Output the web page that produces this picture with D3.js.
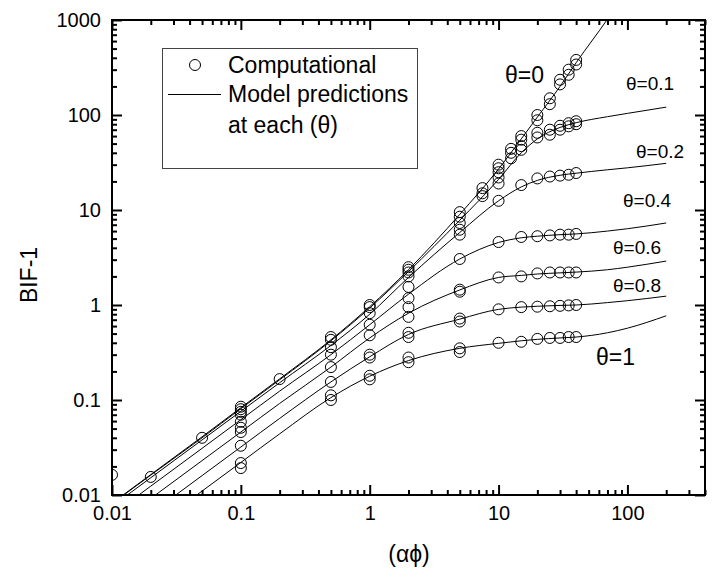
<!DOCTYPE html>
<html>
<head>
<meta charset="utf-8">
<script src="https://cdn.jsdelivr.net/npm/d3@7"></script>
<style>
  body { margin: 0; background: #fff; }
  .chart { font-family: "Liberation Sans", Arial, sans-serif; }
  .axis line { stroke: #000; stroke-width: 2; }
  .axis text { font-size: 20px; fill: #000; }
</style>
</head>
<body>
<svg class="chart"></svg>
<script>
// computational results, one column of values per (alpha*phi)
var compX = [0.01, 0.02, 0.05, 0.1, 0.2, 0.5, 1, 2, 5, 7.5, 10, 12.5, 15, 20, 25, 30, 35, 40];
var compY = [
  [0.0163],
  [0.0155],
  [0.04],
  [0.085, 0.08, 0.075, 0.07, 0.059, 0.051, 0.046, 0.033, 0.0217, 0.0192],
  [0.166],
  [0.46, 0.43, 0.36, 0.30, 0.222, 0.155, 0.112, 0.1],
  [1.0, 0.95, 0.82, 0.62, 0.48, 0.30, 0.28, 0.18, 0.165],
  [2.5, 2.35, 2.2, 2.0, 1.55, 1.18, 0.95, 0.75, 0.51, 0.46, 0.28, 0.25],
  [9.5, 8.5, 7.3, 6.2, 5.5, 3.05, 1.45, 1.38, 0.72, 0.67, 0.35, 0.32],
  [17, 15, 14],
  [30, 27.5, 25, 22, 19, 12.5, 4.6, 1.95, 0.9, 0.4],
  [44, 40, 35],
  [60, 55, 47, 43, 18.3, 5.2, 2.0, 0.95, 0.41],
  [100, 88, 65, 58, 21.5, 5.3, 2.15, 0.96, 0.44],
  [150, 130, 70, 62, 22.5, 5.4, 2.2, 0.97, 0.45],
  [235, 210, 77, 70, 23, 5.5, 2.2, 0.98, 0.45],
  [300, 265, 82, 76, 23.5, 5.5, 2.2, 0.99, 0.46],
  [380, 340, 86, 80, 24.5, 5.6, 2.2, 1.0, 0.46]
];

// model predictions, one curve per theta
var thetas = [0, 0.1, 0.2, 0.4, 0.6, 0.8, 1];
var modelX = [0.01, 0.02, 0.05, 0.1, 0.2, 0.5, 1, 2, 5, 10, 15, 20, 30, 40, 70, 100, 200];
var modelY = [
  [0.0082, 0.0164, 0.041, 0.083, 0.167, 0.43, 0.96, 2.35, 9, 27, 56, 95, 200, 355, 1020, 2100, 8000],
  [0.0081, 0.0162, 0.040, 0.081, 0.163, 0.42, 0.93, 2.25, 7.8, 21, 40, 56, 74, 83, 96, 104, 121],
  [0.0076, 0.0152, 0.038, 0.076, 0.152, 0.375, 0.8, 1.95, 5.8, 12.5, 17.5, 20.5, 23.2, 24.4, 26.5, 27.8, 31],
  [0.0062, 0.0124, 0.031, 0.062, 0.124, 0.30, 0.62, 1.3, 3.05, 4.55, 5.1, 5.3, 5.5, 5.6, 6.0, 6.35, 7.3],
  [0.0046, 0.0092, 0.023, 0.046, 0.092, 0.222, 0.45, 0.82, 1.44, 1.95, 2.05, 2.12, 2.18, 2.22, 2.35, 2.5, 2.9],
  [0.0032, 0.0064, 0.016, 0.032, 0.064, 0.155, 0.285, 0.49, 0.71, 0.9, 0.95, 0.97, 0.99, 1.0, 1.06, 1.11, 1.24],
  [0.0022, 0.0044, 0.011, 0.022, 0.044, 0.106, 0.178, 0.26, 0.35, 0.395, 0.42, 0.435, 0.45, 0.46, 0.51, 0.57, 0.77]
];

// theta labels beside the curves, in data units
var labelText = ["\u03b8=0", "\u03b8=0.1", "\u03b8=0.2", "\u03b8=0.4", "\u03b8=0.6", "\u03b8=0.8", "\u03b8=1"];
var labelX = [11.2, 97.5, 116.6, 92.5, 77.3, 77.3, 57];
var labelY = [217, 183, 35.3, 10.8, 3.44, 1.37, 0.233];

var xTicks = [0.01, 0.1, 1, 10, 100];
var yTicks = [0.01, 0.1, 1, 10, 100, 1000];

var width = 712, height = 570;
var margin = {top: 20, right: 7, bottom: 75, left: 112};
var x0 = margin.left, x1 = width - margin.right,
    y0 = height - margin.bottom, y1 = margin.top;

var x = d3.scaleLog().domain([0.01, 400]).range([x0, x1]);
var y = d3.scaleLog().domain([0.01, 1000]).range([y0, y1]);

var svg = d3.select(".chart")
    .attr("width", width)
    .attr("height", height);

svg.append("clipPath").attr("id", "plot")
  .append("rect")
    .attr("x", x0).attr("y", y1)
    .attr("width", x1 - x0).attr("height", y0 - y1);

var xMinor = x.ticks().filter(function(d) { return xTicks.indexOf(d) < 0; });
var yMinor = y.ticks().filter(function(d) { return yTicks.indexOf(d) < 0; });

// ticks point inward on all four sides
function addAxis(axis, tx, ty, major, minor, labels) {
  var g = svg.append("g").attr("class", "axis")
      .attr("transform", "translate(" + tx + "," + ty + ")");
  g.call(axis.scale(major.scale).tickValues(major.values).tickSize(-10)
      .tickPadding(11).tickFormat(labels ? function(d) { return String(d); } : ""));
  g.select(".domain").remove();
  var m = svg.append("g").attr("class", "axis")
      .attr("transform", "translate(" + tx + "," + ty + ")");
  m.call(minor.tickValues(minor.values).tickSize(-5).tickFormat(""));
  m.select(".domain").remove();
  g.selectAll("text").attr("font-family", null).attr("font-size", null);
}

addAxis(d3.axisBottom(), 0, y0, {scale: x, values: xTicks},
    Object.assign(d3.axisBottom(x), {values: xMinor}), true);
addAxis(d3.axisTop(), 0, y1, {scale: x, values: xTicks},
    Object.assign(d3.axisTop(x), {values: xMinor}), false);
addAxis(d3.axisLeft(), x0, 0, {scale: y, values: yTicks},
    Object.assign(d3.axisLeft(y), {values: yMinor}), true);
addAxis(d3.axisRight(), x1, 0, {scale: y, values: yTicks},
    Object.assign(d3.axisRight(y), {values: yMinor}), false);

svg.selectAll(".axis").attr("font-size", null).attr("font-family", null);

// frame
svg.append("rect")
    .attr("x", x0).attr("y", y1)
    .attr("width", x1 - x0).attr("height", y0 - y1)
    .attr("fill", "none").attr("stroke", "#000").attr("stroke-width", 2);

var plot = svg.append("g").attr("clip-path", "url(#plot)");

var line = d3.line()
    .x(function(d) { return x(d[0]); })
    .y(function(d) { return y(d[1]); })
    .curve(d3.curveMonotoneX);

plot.selectAll(".model")
    .data(modelY)
  .enter().append("path")
    .attr("class", "model")
    .attr("d", function(ys) { return line(ys.map(function(v, i) { return [modelX[i], v]; })); })
    .attr("fill", "none")
    .attr("stroke", "#000")
    .attr("stroke-width", 1);

var points = [];
compX.forEach(function(cx, i) {
  compY[i].forEach(function(v) { points.push([cx, v]); });
});

plot.selectAll(".pt")
    .data(points)
  .enter().append("circle")
    .attr("class", "pt")
    .attr("cx", function(d) { return x(d[0]); })
    .attr("cy", function(d) { return y(d[1]); })
    .attr("r", 5.5)
    .attr("fill", "none")
    .attr("stroke", "#000")
    .attr("stroke-width", 1);

svg.selectAll(".tlabel")
    .data(labelText)
  .enter().append("text")
    .attr("class", "tlabel")
    .attr("x", function(d, i) { return x(labelX[i]); })
    .attr("y", function(d, i) { return y(labelY[i]); })
    .attr("font-size", function(d) { return d.length > 3 ? "19px" : "23px"; })
    .text(function(d) { return d; });

// legend
var leg = svg.append("g");
leg.append("rect")
    .attr("x", 162.5).attr("y", 48.5).attr("width", 255).attr("height", 120)
    .attr("fill", "#fff").attr("stroke", "#444").attr("stroke-width", 1);
leg.append("circle")
    .attr("cx", 195).attr("cy", 65).attr("r", 5.5)
    .attr("fill", "none").attr("stroke", "#000");
leg.append("line")
    .attr("x1", 168).attr("x2", 221).attr("y1", 94.5).attr("y2", 94.5)
    .attr("stroke", "#000");
leg.append("text").attr("x", 228).attr("y", 73).attr("font-size", "23px").text("Computational");
leg.append("text").attr("x", 228).attr("y", 102).attr("font-size", "23px").text("Model predictions");
leg.append("text").attr("x", 228).attr("y", 133).attr("font-size", "23px").text("at each (\u03b8)");

// axis titles
svg.append("text")
    .attr("transform", "translate(37,275) rotate(-90)")
    .attr("text-anchor", "middle")
    .attr("font-size", "23px")
    .text("BIF-1");

svg.append("text")
    .attr("x", 409).attr("y", 562)
    .attr("text-anchor", "middle")
    .attr("font-size", "23px")
    .text("(\u03b1\u03d5)");
</script>
</body>
</html>
